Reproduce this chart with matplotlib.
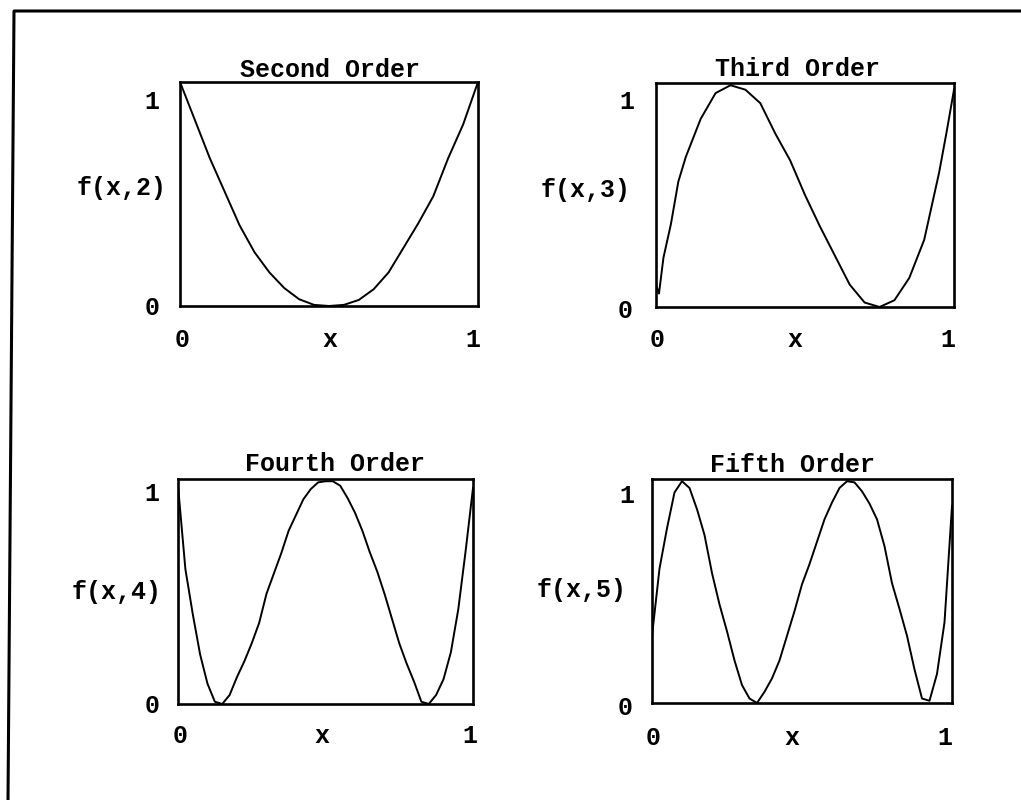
import matplotlib
matplotlib.use("Agg")
import matplotlib.pyplot as plt
from matplotlib.lines import Line2D

# ---------------- data ----------------
x_coarse = [0.0, 0.05, 0.1, 0.15, 0.2, 0.25, 0.3, 0.35, 0.4, 0.45, 0.5,
            0.55, 0.6, 0.65, 0.7, 0.75, 0.8, 0.85, 0.9, 0.95, 1.0]
f2 = [1.0, 0.83, 0.66, 0.51, 0.36, 0.24, 0.15, 0.08, 0.03, 0.005, 0.0,
      0.005, 0.027, 0.075, 0.15, 0.26, 0.37, 0.49, 0.66, 0.81, 1.0]

x3 = [0.0, 0.01, 0.025, 0.05, 0.075, 0.1, 0.15, 0.2, 0.25, 0.3, 0.35, 0.4,
      0.45, 0.5, 0.55, 0.6, 0.65, 0.7, 0.75, 0.8, 0.85, 0.9, 0.95, 0.975, 1.0]
f3 = [0.10, 0.06, 0.22, 0.37, 0.56, 0.67, 0.84, 0.955, 0.99, 0.97, 0.91, 0.775,
      0.655, 0.50, 0.36, 0.23, 0.10, 0.02, 0.0, 0.03, 0.13, 0.30, 0.60, 0.78, 0.97]

x_fine = [0.0, 0.025, 0.05, 0.075, 0.1, 0.125, 0.15, 0.175, 0.2, 0.225, 0.25,
          0.275, 0.3, 0.325, 0.35, 0.375, 0.4, 0.425, 0.45, 0.475, 0.5,
          0.525, 0.55, 0.575, 0.6, 0.625, 0.65, 0.675, 0.7, 0.725, 0.75,
          0.775, 0.8, 0.825, 0.85, 0.875, 0.9, 0.925, 0.95, 0.975, 1.0]
f4 = [0.97, 0.60, 0.40, 0.22, 0.09, 0.01, 0.0, 0.04, 0.12, 0.19, 0.27,
      0.36, 0.49, 0.58, 0.67, 0.77, 0.84, 0.91, 0.955, 0.985, 0.99,
      0.99, 0.97, 0.915, 0.85, 0.77, 0.675, 0.59, 0.49, 0.38, 0.27,
      0.18, 0.10, 0.01, 0.0, 0.04, 0.11, 0.23, 0.42, 0.68, 0.96]
f5 = [0.30, 0.60, 0.78, 0.94, 0.99, 0.96, 0.865, 0.75, 0.58, 0.44, 0.32,
      0.19, 0.08, 0.02, 0.0, 0.05, 0.11, 0.19, 0.30, 0.41, 0.53,
      0.62, 0.72, 0.82, 0.895, 0.96, 0.99, 0.985, 0.945, 0.89, 0.82,
      0.70, 0.535, 0.42, 0.30, 0.15, 0.02, 0.01, 0.13, 0.36, 0.88]

titles = ["Second Order", "Third Order", "Fourth Order", "Fifth Order"]
ylabels = ["f(x,2)", "f(x,3)", "f(x,4)", "f(x,5)"]
xs = [x_coarse, x3, x_fine, x_fine]
ys = [f2, f3, f4, f5]
ytick_labels = ["0", "1"]
xtick_labels = ["0", "x", "1"]

# ---------------- layout ----------------
W, H = 1021, 800
fig = plt.figure(figsize=(W / 100, H / 100), dpi=100)
fig.patch.set_facecolor("white")

def fx(px):
    return px / W

def fy(py):
    return 1 - py / H

# axes boxes in pixels: left, top, right, bottom
boxes = [(180, 82, 478, 306), (656, 83, 954, 307),
         (178, 479, 473, 704), (652, 479, 952, 703)]
# label positions in pixels
title_pos = [(330, 70), (797, 69), (335, 464), (792, 465)]
ylab_pos = [(122, 188), (586, 190), (117, 592), (582, 590)]
y1_pos = [(152, 102), (627, 102), (152, 494), (627, 496)]
y0_pos = [(152, 308), (625, 311), (152, 706), (625, 708)]
xrow_y = [340, 340, 736, 738]
xlab_x = [(182, 330, 473), (657, 795, 948), (180, 322, 470), (653, 792, 945)]

font = dict(family="Liberation Mono", fontweight="bold", fontsize=18, color="black")

for i in range(4):
    l, t, r, b = boxes[i]
    ax = fig.add_axes([fx(l), fy(b), (r - l) / W, (b - t) / H])
    ax.plot(xs[i], ys[i], color="black", lw=1.4, solid_joinstyle="round")
    ax.set_xlim(0, 1)
    ax.set_ylim(0, 1)
    ax.set_xticks([])
    ax.set_yticks([])
    for s in ax.spines.values():
        s.set_linewidth(1.9)
        s.set_color("black")
    fig.text(fx(title_pos[i][0]), fy(title_pos[i][1]), titles[i],
             ha="center", va="center", **font)
    fig.text(fx(ylab_pos[i][0]), fy(ylab_pos[i][1]), ylabels[i],
             ha="center", va="center", **font)
    fig.text(fx(y1_pos[i][0]), fy(y1_pos[i][1]), ytick_labels[1],
             ha="center", va="center", **font)
    fig.text(fx(y0_pos[i][0]), fy(y0_pos[i][1]), ytick_labels[0],
             ha="center", va="center", **font)
    for k in range(3):
        fig.text(fx(xlab_x[i][k]), fy(xrow_y[i]), xtick_labels[k],
                 ha="center", va="center", **font)

# outer frame (top and left edges visible)
fig.add_artist(Line2D([fx(8), fx(14), fx(1021)], [fy(800), fy(11), fy(11)],
                      color="black", lw=2.2, transform=fig.transFigure))

fig.savefig("out.png", dpi=100, facecolor="white")
